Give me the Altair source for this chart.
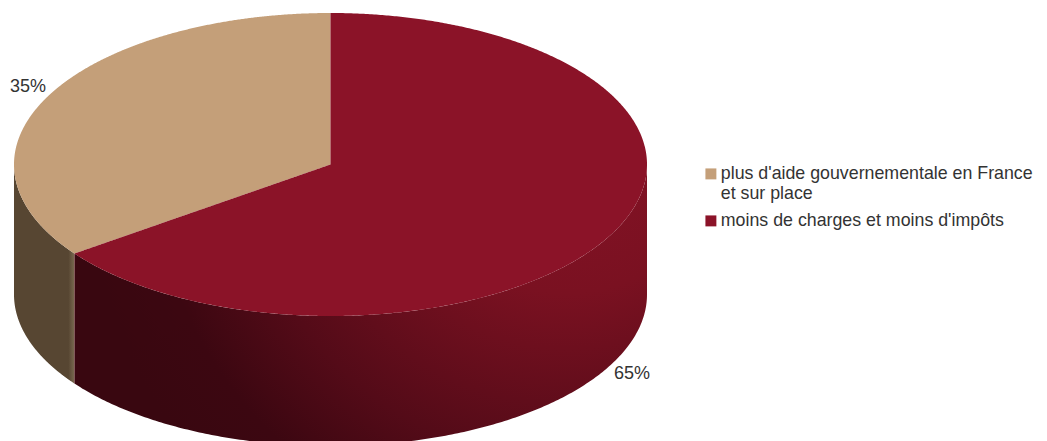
import numpy as np
import pandas as pd
import altair as alt

# Survey shares and their labels
categories = ["plus d'aide gouvernementale en France|et sur place",
              "moins de charges et moins d'impôts"]
shares = [35, 65]
share_labels = ["35%", "65%"]
top_colors = ["#c49f79", "#8b1328"]

# Layout of the drawn disc, in pixels
W, H = 1047, 441
CX, CY, RX, RY = 330.5, 164.5, 316.5, 151.5
DEPTH = 130 / RY

x_scale = alt.Scale(domain=[-CX / RX, (W - CX) / RX], range=[0, W], nice=False, zero=False)
y_scale = alt.Scale(domain=[(CY - H) / RY, CY / RY], range=[H, 0], nice=False, zero=False)

# The first slice runs counter-clockwise from twelve o'clock
angle = 2 * np.pi * shares[0] / sum(shares)
xe, ye = float(-np.sin(angle)), float(np.cos(angle))


def rim(x):
    return np.sqrt(np.clip(1 - x ** 2, 0, 1))


def samples(a, b, n=240):
    # Even spacing in angle keeps the steep ends of the ellipse smooth
    t = np.linspace(np.arccos(np.clip(a, -1, 1)), np.arccos(np.clip(b, -1, 1)), n)
    return np.cos(t)


def spoke(x):
    return ye * x / xe


rows = []
# Tan face
for x in samples(-1, xe):
    rows.append((categories[0], float(x), float(rim(x)), float(-rim(x))))
for x in samples(xe, 0):
    rows.append((categories[0], float(x), float(rim(x)), float(spoke(x))))
# Red face
for x in samples(xe, 0):
    rows.append((categories[1], float(x), float(spoke(x)), float(-rim(x))))
for x in samples(0, 1):
    rows.append((categories[1], float(x), float(rim(x)), float(-rim(x))))
faces = pd.DataFrame(rows, columns=["series", "px", "top", "low"])


def wall(a, b):
    xs = samples(a, b)
    return pd.DataFrame({"px": xs, "top": -rim(xs), "low": -rim(xs) - DEPTH})


X = alt.X("px:Q", scale=x_scale, axis=None)
Y = alt.Y("top:Q", scale=y_scale, axis=None, stack=None)
Y2 = alt.Y2("low:Q")

tan_wall = alt.Chart(wall(-1, xe)).mark_area(
    color=alt.LinearGradient(
        gradient="linear", x1=0, y1=0, x2=1, y2=0,
        stops=[alt.GradientStop(offset=0, color="#574632"),
               alt.GradientStop(offset=0.9, color="#574632"),
               alt.GradientStop(offset=1, color="#7a6950")],
    )
).encode(x=X, y=Y, y2=Y2)

red_wall = alt.Chart(wall(xe, 1)).mark_area(
    color=alt.RadialGradient(
        gradient="radial", x1=0.86, y1=0.2, r1=0.03, x2=0.86, y2=0.2, r2=0.86,
        stops=[alt.GradientStop(offset=0, color="#851226"),
               alt.GradientStop(offset=0.3, color="#7a1121"),
               alt.GradientStop(offset=0.65, color="#540b18"),
               alt.GradientStop(offset=0.85, color="#3c0711"),
               alt.GradientStop(offset=1, color="#390710")],
    ),
).encode(x=X, y=Y, y2=Y2)

# Dark falloff where the wall turns away at the right-hand edge
edge_shade = alt.Chart(wall(0.9, 1)).mark_area(
    color=alt.RadialGradient(
        gradient="radial", x1=1, y1=0.55, r1=0, x2=1, y2=0.55, r2=0.4,
        stops=[alt.GradientStop(offset=0, color="rgba(50,5,15,0.5)"),
               alt.GradientStop(offset=1, color="rgba(50,5,15,0)")],
    ),
).encode(x=X, y=Y, y2=Y2)

top = alt.Chart(faces).mark_area().encode(
    x=X, y=Y, y2=Y2,
    color=alt.Color(
        "series:N",
        scale=alt.Scale(domain=categories, range=top_colors),
        legend=alt.Legend(
            orient="none", legendX=702, legendY=165, title=None,
            symbolType="square", symbolSize=120, symbolStrokeWidth=0,
            labelFont="Liberation Sans", labelFontSize=17.8, labelColor="#333333",
            labelExpr="split(datum.label, '|')", labelLimit=400, labelOffset=1,
            rowPadding=8,
        ),
    ),
)

pct_a = alt.Chart(pd.DataFrame({"t": [share_labels[0]]})).mark_text(
    font="Liberation Sans", fontSize=18, color="#333333", align="left", baseline="middle"
).encode(x=alt.value(10), y=alt.value(87), text="t:N")
pct_b = alt.Chart(pd.DataFrame({"t": [share_labels[1]]})).mark_text(
    font="Liberation Sans", fontSize=18, color="#333333", align="left", baseline="middle"
).encode(x=alt.value(614), y=alt.value(374), text="t:N")

chart = alt.layer(tan_wall, red_wall, edge_shade, top, pct_a, pct_b).properties(
    width=W, height=H, padding=0, background="white",
    autosize=alt.AutoSizeParams(type="none")
).configure_view(strokeWidth=0)

chart.save("out.html", embed_options={"renderer": "svg", "actions": False})
